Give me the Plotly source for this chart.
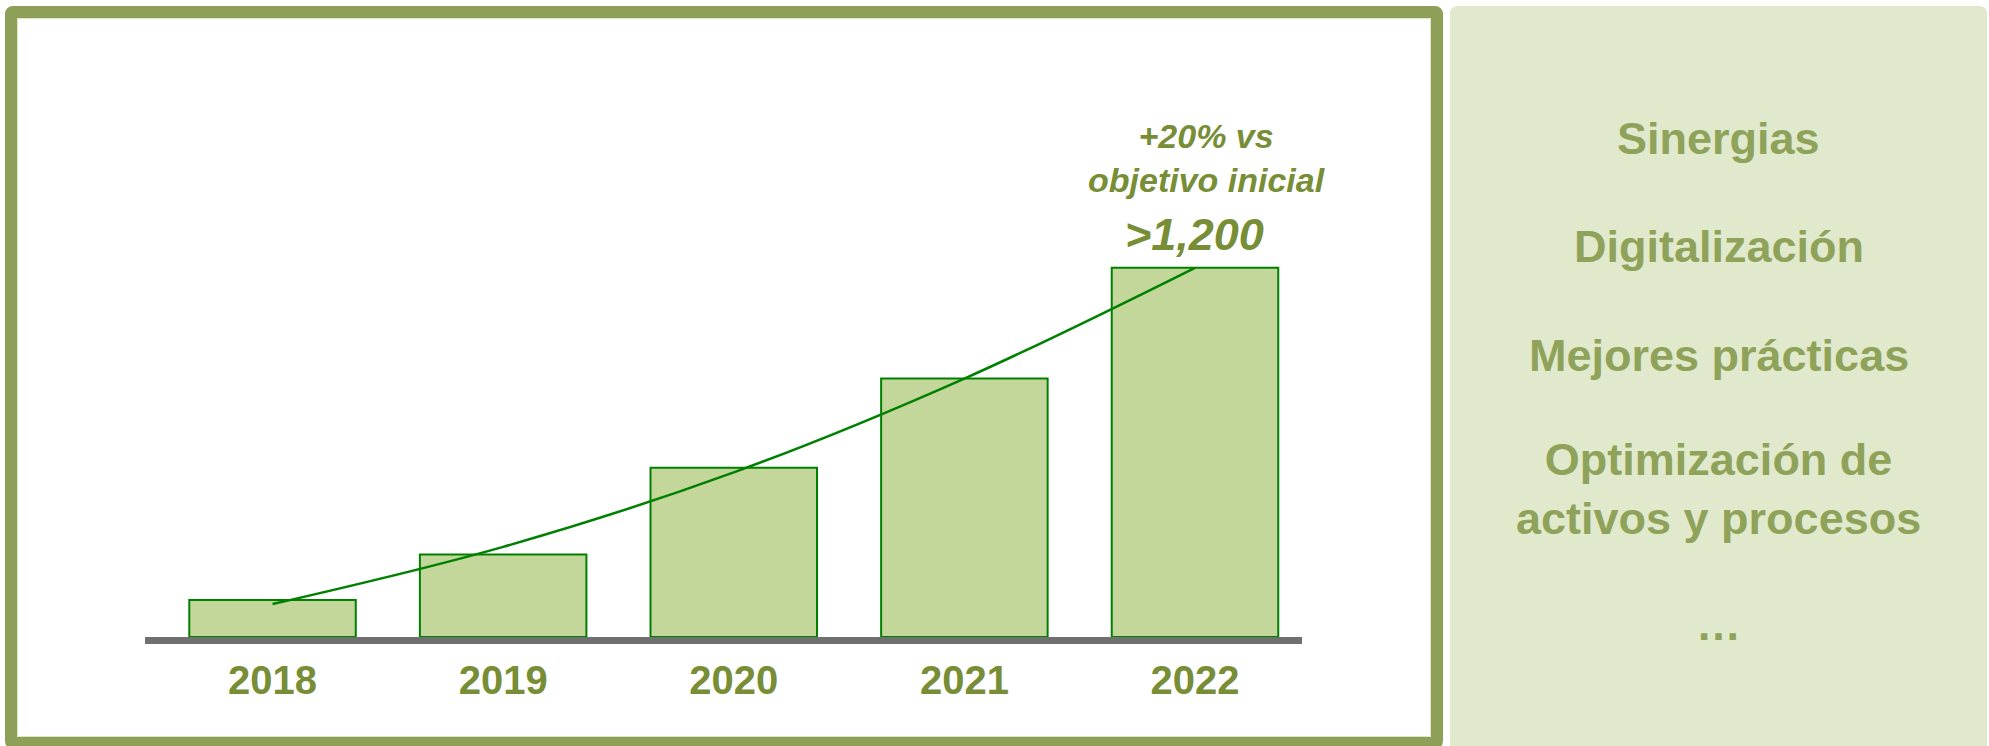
import plotly.graph_objects as go

# Data
years = ["2018", "2019", "2020", "2021", "2022"]
values = [120, 268, 550, 840, 1200]
trend_values = [107, 293, 535, 840, 1200]
top_label = ">1,200"
top_note = "+20% vs<br>objetivo inicial"
levers = ["Sinergias", "Digitalización", "Mejores prácticas",
          "Optimización de<br>activos y procesos", "…"]

# Canvas and plot-area geometry (pixels)
W, H = 1989, 746
PL, PR, PT, PB = 145, 1302, 237, 637


def px(x):
    return (x - PL) / (PR - PL)


def py(y):
    return (PB - y) / (PB - PT)


def rounded_rect(x0, y0, x1, y1, r):
    return (f"M {px(x0 + r)},{py(y0)} L {px(x1 - r)},{py(y0)} "
            f"Q {px(x1)},{py(y0)} {px(x1)},{py(y0 + r)} "
            f"L {px(x1)},{py(y1 - r)} Q {px(x1)},{py(y1)} {px(x1 - r)},{py(y1)} "
            f"L {px(x0 + r)},{py(y1)} Q {px(x0)},{py(y1)} {px(x0)},{py(y1 - r)} "
            f"L {px(x0)},{py(y0 + r)} Q {px(x0)},{py(y0)} {px(x0 + r)},{py(y0)} Z")


FONT = "Liberation Sans, Arial, sans-serif"
OLIVE = "#778D36"
PANEL_TEXT = "#8FA25A"
BORDER = "#8E9F58"

fig = go.Figure()

fig.add_trace(go.Bar(
    x=years, y=values,
    marker=dict(color="#C4D79B", line=dict(color="#008000", width=2)),
    hoverinfo="skip",
))

fig.add_trace(go.Scatter(
    x=years, y=trend_values, mode="lines",
    line=dict(color="#008000", width=2.5, shape="spline", smoothing=1.0),
    hoverinfo="skip",
))

shapes = [
    # right-hand panel
    dict(type="path", xref="paper", yref="paper",
         path=rounded_rect(1450, 6, 1987, 760, 8),
         fillcolor="#E1E9CC", line=dict(width=0), layer="below"),
    # frame around the chart
    dict(type="path", xref="paper", yref="paper",
         path=rounded_rect(11, 12, 1437, 743, 2),
         fillcolor="rgba(0,0,0,0)", line=dict(color=BORDER, width=12),
         layer="below"),
    dict(type="rect", xref="paper", yref="paper",
         x0=px(17.5), x1=px(1430.5), y0=py(18.5), y1=py(736.5),
         fillcolor="rgba(0,0,0,0)", line=dict(color="#DCE6C4", width=1),
         layer="below"),
    # grey baseline under the bars
    dict(type="rect", xref="paper", yref="paper",
         x0=0, x1=1, y0=py(644), y1=py(637),
         fillcolor="#707070", line=dict(width=0), layer="above"),
]

last = len(years) - 1
annotations = [
    dict(x=last, y=values[-1], xref="x", yref="y", text=top_label,
         showarrow=False, xanchor="center", yanchor="middle", yshift=33,
         font=dict(family=FONT, size=45, color=OLIVE, weight="bold",
                   style="italic")),
    dict(x=last, y=values[-1], xref="x", yref="y", text=top_note,
         showarrow=False, xanchor="center", yanchor="middle", yshift=110,
         xshift=12,
         font=dict(family=FONT, size=34, color=OLIVE, weight="bold",
                   style="italic")),
]

lever_y = [139, 246, 355, 489, 624]
for txt, yy in zip(levers, lever_y):
    annotations.append(dict(
        x=px(1719), y=py(yy), xref="paper", yref="paper", text=txt,
        showarrow=False, xanchor="center", yanchor="middle", align="center",
        font=dict(family=FONT, size=45, color=PANEL_TEXT, weight="bold"),
    ))

fig.update_layout(
    width=W, height=H,
    margin=dict(l=PL, r=W - PR, t=PT, b=H - PB, pad=0),
    paper_bgcolor="white", plot_bgcolor="rgba(0,0,0,0)",
    showlegend=False, bargap=0.278,
    shapes=shapes, annotations=annotations,
    xaxis=dict(type="category", range=[-0.553, 4.464], showline=False,
               ticks="", showgrid=False, zeroline=False,
               ticklabelstandoff=16,
               tickfont=dict(family=FONT, size=40, color=OLIVE,
                             weight="bold")),
    yaxis=dict(range=[0, 1300], visible=False, showgrid=False,
               zeroline=False),
)

fig.write_html("out.html", config={"displayModeBar": False})
